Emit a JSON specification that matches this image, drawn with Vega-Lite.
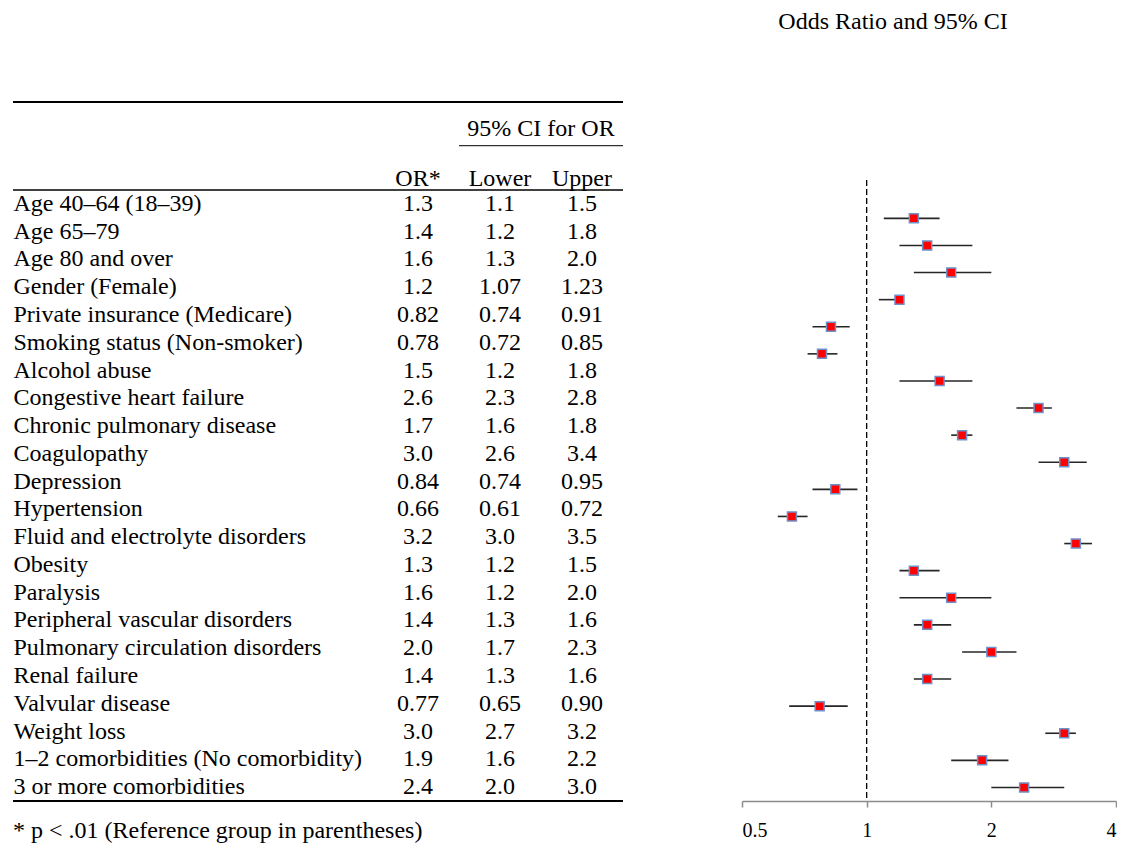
{
  "$schema": "https://vega.github.io/schema/vega-lite/v6.json",
  "background": "white",
  "padding": {"left": 12, "top": 10, "right": 0, "bottom": 0},
  "bounds": "flush",
  "spacing": 119,
  "data": {"values": [
    {"label": "Age 40–64 (18–39)", "OR": "1.3", "Lower": "1.1", "Upper": "1.5", "or": 1.3, "lower": 1.1, "upper": 1.5},
    {"label": "Age 65–79", "OR": "1.4", "Lower": "1.2", "Upper": "1.8", "or": 1.4, "lower": 1.2, "upper": 1.8},
    {"label": "Age 80 and over", "OR": "1.6", "Lower": "1.3", "Upper": "2.0", "or": 1.6, "lower": 1.3, "upper": 2.0},
    {"label": "Gender (Female)", "OR": "1.2", "Lower": "1.07", "Upper": "1.23", "or": 1.2, "lower": 1.07, "upper": 1.23},
    {"label": "Private insurance (Medicare)", "OR": "0.82", "Lower": "0.74", "Upper": "0.91", "or": 0.82, "lower": 0.74, "upper": 0.91},
    {"label": "Smoking status (Non-smoker)", "OR": "0.78", "Lower": "0.72", "Upper": "0.85", "or": 0.78, "lower": 0.72, "upper": 0.85},
    {"label": "Alcohol abuse", "OR": "1.5", "Lower": "1.2", "Upper": "1.8", "or": 1.5, "lower": 1.2, "upper": 1.8},
    {"label": "Congestive heart failure", "OR": "2.6", "Lower": "2.3", "Upper": "2.8", "or": 2.6, "lower": 2.3, "upper": 2.8},
    {"label": "Chronic pulmonary disease", "OR": "1.7", "Lower": "1.6", "Upper": "1.8", "or": 1.7, "lower": 1.6, "upper": 1.8},
    {"label": "Coagulopathy", "OR": "3.0", "Lower": "2.6", "Upper": "3.4", "or": 3.0, "lower": 2.6, "upper": 3.4},
    {"label": "Depression", "OR": "0.84", "Lower": "0.74", "Upper": "0.95", "or": 0.84, "lower": 0.74, "upper": 0.95},
    {"label": "Hypertension", "OR": "0.66", "Lower": "0.61", "Upper": "0.72", "or": 0.66, "lower": 0.61, "upper": 0.72},
    {"label": "Fluid and electrolyte disorders", "OR": "3.2", "Lower": "3.0", "Upper": "3.5", "or": 3.2, "lower": 3.0, "upper": 3.5},
    {"label": "Obesity", "OR": "1.3", "Lower": "1.2", "Upper": "1.5", "or": 1.3, "lower": 1.2, "upper": 1.5},
    {"label": "Paralysis", "OR": "1.6", "Lower": "1.2", "Upper": "2.0", "or": 1.6, "lower": 1.2, "upper": 2.0},
    {"label": "Peripheral vascular disorders", "OR": "1.4", "Lower": "1.3", "Upper": "1.6", "or": 1.4, "lower": 1.3, "upper": 1.6},
    {"label": "Pulmonary circulation disorders", "OR": "2.0", "Lower": "1.7", "Upper": "2.3", "or": 2.0, "lower": 1.7, "upper": 2.3},
    {"label": "Renal failure", "OR": "1.4", "Lower": "1.3", "Upper": "1.6", "or": 1.4, "lower": 1.3, "upper": 1.6},
    {"label": "Valvular disease", "OR": "0.77", "Lower": "0.65", "Upper": "0.90", "or": 0.77, "lower": 0.65, "upper": 0.90},
    {"label": "Weight loss", "OR": "3.0", "Lower": "2.7", "Upper": "3.2", "or": 3.0, "lower": 2.7, "upper": 3.2},
    {"label": "1–2 comorbidities (No comorbidity)", "OR": "1.9", "Lower": "1.6", "Upper": "2.2", "or": 1.9, "lower": 1.6, "upper": 2.2},
    {"label": "3 or more comorbidities", "OR": "2.4", "Lower": "2.0", "Upper": "3.0", "or": 2.4, "lower": 2.0, "upper": 3.0}
  ]},
  "config": {
    "view": {"stroke": null},
    "font": "Liberation Serif, Times New Roman, Times, serif",
    "axis": {"grid": false, "labelFont": "Liberation Serif, Times New Roman, Times, serif", "titleFont": "Liberation Serif, Times New Roman, Times, serif"},
    "title": {"font": "Liberation Serif, Times New Roman, Times, serif", "fontSize": 24, "fontWeight": "normal", "color": "black"},
    "text": {"font": "Liberation Serif, Times New Roman, Times, serif", "fontSize": 24, "color": "black"}
  },
  "hconcat": [
    {
      "width": 610,
      "height": 699,
      "title": {"text": "* p < .01 (Reference group in parentheses)", "orient": "bottom", "anchor": "start", "frame": "group", "offset": 17},
      "layer": [
        {
          "transform": [{"fold": ["OR", "Lower", "Upper"], "as": ["col", "val"]}],
          "mark": {"type": "text", "font": "Liberation Serif, Times New Roman, Times, serif", "fontSize": 24, "color": "black"},
          "encoding": {
            "x": {"field": "col", "type": "nominal", "scale": {"type": "band", "domain": ["OR", "Lower", "Upper"], "range": [364, 610], "paddingInner": 0, "paddingOuter": 0}, "axis": null},
            "y": {"field": "label", "type": "nominal", "sort": null, "scale": {"type": "band", "domain": ["Age 40–64 (18–39)", "Age 65–79", "Age 80 and over", "Gender (Female)", "Private insurance (Medicare)", "Smoking status (Non-smoker)", "Alcohol abuse", "Congestive heart failure", "Chronic pulmonary disease", "Coagulopathy", "Depression", "Hypertension", "Fluid and electrolyte disorders", "Obesity", "Paralysis", "Peripheral vascular disorders", "Pulmonary circulation disorders", "Renal failure", "Valvular disease", "Weight loss", "1–2 comorbidities (No comorbidity)", "3 or more comorbidities"], "range": [88, 699], "paddingInner": 0, "paddingOuter": 0}, "axis": {"orient": "left", "domain": false, "ticks": false, "tickSize": 0, "labelPadding": 0, "labelAlign": "left", "labelBaseline": "middle", "labelFont": "Liberation Serif, Times New Roman, Times, serif", "labelFontSize": 24, "labelColor": "black", "labelLimit": 0, "labelOverlap": false, "title": null, "grid": false}},
            "text": {"field": "val"}
          }
        },
        {
          "data": {"values": [{"col": "OR", "head": "OR*"}, {"col": "Lower", "head": "Lower"}, {"col": "Upper", "head": "Upper"}]},
          "mark": {"type": "text", "font": "Liberation Serif, Times New Roman, Times, serif", "fontSize": 24, "color": "black"},
          "encoding": {
            "x": {"field": "col", "type": "nominal"},
            "y": {"datum": "Age 40–64 (18–39)", "type": "nominal", "bandPosition": -0.4},
            "text": {"field": "head"}
          }
        },
        {
          "data": {"values": [{"head": "95% CI for OR"}]},
          "mark": {"type": "text", "font": "Liberation Serif, Times New Roman, Times, serif", "fontSize": 24, "color": "black"},
          "encoding": {
            "x": {"datum": "Lower", "type": "nominal", "bandPosition": 1},
            "y": {"datum": "Age 40–64 (18–39)", "type": "nominal", "bandPosition": -2.2},
            "text": {"field": "head"}
          }
        },
        {
          "data": {"values": [{"line": "CI header"}]},
          "mark": {"type": "rule", "color": "black", "strokeWidth": 1},
          "encoding": {
            "x": {"datum": "Lower", "type": "nominal", "bandPosition": 0},
            "x2": {"datum": "Upper", "bandPosition": 1},
            "y": {"datum": "Age 40–64 (18–39)", "type": "nominal", "bandPosition": -1.595}
          }
        },
        {
          "data": {"values": [{"line": "top"}]},
          "mark": {"type": "rule", "color": "black", "strokeWidth": 2},
          "encoding": {
            "y": {"datum": "Age 40–64 (18–39)", "type": "nominal", "bandPosition": -3.1686}
          }
        },
        {
          "data": {"values": [{"line": "header"}]},
          "mark": {"type": "rule", "color": "black", "strokeWidth": 1.6},
          "encoding": {
            "y": {"datum": "Age 40–64 (18–39)", "type": "nominal", "bandPosition": 0}
          }
        },
        {
          "data": {"values": [{"line": "bottom"}]},
          "mark": {"type": "rule", "color": "black", "strokeWidth": 2},
          "encoding": {
            "y": {"datum": "3 or more comorbidities", "type": "nominal", "bandPosition": 1}
          }
        }
      ]
    },
    {
      "width": 374,
      "height": 699,
      "title": {"text": "Odds Ratio and 95% CI", "offset": 68, "dx": -36, "anchor": "middle"},
      "encoding": {
        "y": {"field": "label", "type": "nominal", "sort": null, "scale": {"type": "band", "domain": ["Age 40–64 (18–39)", "Age 65–79", "Age 80 and over", "Gender (Female)", "Private insurance (Medicare)", "Smoking status (Non-smoker)", "Alcohol abuse", "Congestive heart failure", "Chronic pulmonary disease", "Coagulopathy", "Depression", "Hypertension", "Fluid and electrolyte disorders", "Obesity", "Paralysis", "Peripheral vascular disorders", "Pulmonary circulation disorders", "Renal failure", "Valvular disease", "Weight loss", "1–2 comorbidities (No comorbidity)", "3 or more comorbidities"], "range": [102.8, 699], "paddingInner": 0, "paddingOuter": 0}, "axis": null, "bandPosition": 0.5}
      },
      "layer": [
        {
          "data": {"values": [{"line": "OR = 1"}]},
          "mark": {"type": "rule", "color": "black", "strokeWidth": 1.3, "strokeDash": [6, 3]},
          "encoding": {
            "x": {"datum": 1, "type": "quantitative", "scale": {"type": "log", "domain": [0.5, 4], "nice": false}, "axis": {"orient": "bottom", "values": [0.5, 1, 2, 4], "format": "~g", "domainColor": "#8c8c8c", "domainWidth": 1.5, "tickColor": "#8c8c8c", "tickWidth": 1.5, "tickSize": 6, "labelFontSize": 20, "labelColor": "black", "labelPadding": 13, "title": null, "grid": false}},
            "y": {"datum": "Age 40–64 (18–39)", "type": "nominal", "bandPosition": -0.915},
            "y2": {"datum": "3 or more comorbidities", "bandPosition": 1}
          }
        },
        {
          "mark": {"type": "rule", "color": "#262626", "strokeWidth": 1.6},
          "encoding": {
            "x": {"field": "lower", "type": "quantitative"},
            "x2": {"field": "upper"}
          }
        },
        {
          "mark": {"type": "point", "shape": "square", "filled": true, "fill": "#ff0000", "stroke": "#6f91c9", "strokeWidth": 1.5, "size": 81, "opacity": 1},
          "encoding": {
            "x": {"field": "or", "type": "quantitative"}
          }
        }
      ]
    }
  ]
}
